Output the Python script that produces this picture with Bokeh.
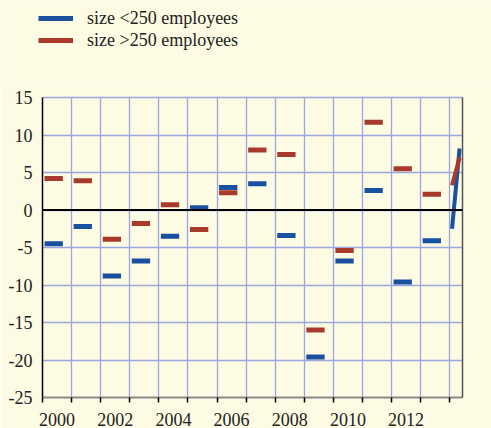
import re
from bokeh.plotting import figure
from bokeh.layouts import column
from bokeh.models import (FixedTicker, LinearAxis, Span, Legend, LabelSet,
                          ColumnDataSource, PrintfTickFormatter, Range1d)
from bokeh.embed import file_html
from bokeh.resources import INLINE

# ---- data ----
years = list(range(2000, 2014))
small_firms = [-4.5, -2.2, -8.8, -6.8, -3.5, 0.3, 3.0, 3.5, -3.4, -19.6, -6.8, 2.6, -9.6, -4.1]
large_firms = [4.2, 3.9, -3.9, -1.8, 0.7, -2.6, 2.3, 8.0, 7.4, -16.0, -5.4, 11.7, 5.5, 2.1]
tail_x = [2014.08, 2014.34]
small_tail = [-2.5, 8.2]
large_tail = [3.3, 7.0]
y_ticks = [-25, -20, -15, -10, -5, 0, 5, 10, 15]
x_label_years = [2000, 2002, 2004, 2006, 2008, 2010, 2012]
grid_years = list(range(2001, 2015))
series_names = ["size <250 employees", "size >250 employees"]
x_start, x_end = 2000, 2014.44
y_start, y_end = -25, 15

BG = "#FDFBE3"
BLUE = "#1A50A0"
RED = "#A83A2C"
GRID = "#9AA6E0"
FONT = "'Liberation Serif', 'Times New Roman', serif"
TXT = "#222222"

W = 491
TOP_H = 85
MAIN_H = 428 - TOP_H

src = ColumnDataSource(dict(
    x0=[y + 0.07 for y in years], x1=[y + 0.70 for y in years],
    small=small_firms, large=large_firms))

# ---------- legend strip ----------
lp = figure(width=W, height=TOP_H, output_backend="svg", toolbar_location=None,
            x_range=Range1d(0, 1), y_range=Range1d(0, 1),
            x_axis_location=None, y_axis_location=None,
            min_border_left=0, min_border_right=0, min_border_top=0, min_border_bottom=0,
            background_fill_color=BG, border_fill_color=BG, outline_line_color=None)
lp.frame_align = False
lp.grid.visible = False
lr1 = lp.segment(x0="x0", y0="small", x1="x1", y1="small", source=src,
                 line_color=BLUE, line_width=5, line_cap="butt")
lr2 = lp.segment(x0="x0", y0="large", x1="x1", y1="large", source=src,
                 line_color=RED, line_width=5, line_cap="butt")
legend = Legend(items=[(series_names[0], [lr1]), (series_names[1], [lr2])],
                location=(38, 34), orientation="vertical",
                glyph_width=35, glyph_height=22, label_height=22, spacing=0,
                label_standoff=14, padding=0, margin=0,
                border_line_color=None, background_fill_alpha=0,
                label_text_font=FONT, label_text_font_size="18px", label_text_color=TXT)
lp.add_layout(legend)

# ---------- main chart ----------
p = figure(width=W, height=MAIN_H, output_backend="svg", toolbar_location=None,
           x_range=Range1d(x_start, x_end), y_range=Range1d(y_start, y_end),
           min_border_left=42, min_border_right=29, min_border_top=12, min_border_bottom=31,
           background_fill_color=BG, border_fill_color=BG, outline_line_color=None)
p.frame_align = False

p.segment(x0="x0", y0="small", x1="x1", y1="small", source=src,
          line_color=BLUE, line_width=5, line_cap="butt")
p.segment(x0="x0", y0="large", x1="x1", y1="large", source=src,
          line_color=RED, line_width=5, line_cap="butt")
p.line(tail_x, small_tail, line_color=BLUE, line_width=4)
p.line(tail_x, large_tail, line_color=RED, line_width=4)

p.add_layout(Span(location=0, dimension="width", line_color="black", line_width=2))

p.xgrid.ticker = FixedTicker(ticks=grid_years)
p.ygrid.ticker = FixedTicker(ticks=y_ticks)
for g in (p.xgrid[0], p.ygrid[0]):
    g.grid_line_color = GRID
    g.grid_line_width = 1.3

xa = p.xaxis[0]
xa.ticker = FixedTicker(ticks=[y + 0.5 for y in x_label_years], minor_ticks=years + [2014])
xa.formatter = PrintfTickFormatter(format="%d")
xa.major_tick_out = 0
xa.major_tick_in = 0
xa.minor_tick_out = 5
xa.minor_tick_in = 0
xa.minor_tick_line_color = "black"
xa.minor_tick_line_width = 1.5
xa.axis_line_color = "#8A8A8A"
xa.axis_line_width = 2
xa.major_label_standoff = 10
xa.major_label_text_font = FONT
xa.major_label_text_font_size = "18px"
xa.major_label_text_color = TXT

ya = p.yaxis[0]
ya.ticker = FixedTicker(ticks=y_ticks)
ya.formatter = PrintfTickFormatter(format="%d")
ya.major_tick_out = 0
ya.major_tick_in = 0
ya.minor_tick_out = 0
ya.minor_tick_in = 0
ya.axis_line_color = "black"
ya.axis_line_width = 1.5
ya.major_label_standoff = 10
ya.major_label_text_font = FONT
ya.major_label_text_font_size = "18px"
ya.major_label_text_color = TXT

ta = LinearAxis(ticker=FixedTicker(ticks=[]), axis_line_color=GRID, axis_line_width=1.3,
                major_tick_out=0, major_tick_in=0, minor_tick_out=0, minor_tick_in=0,
                major_label_standoff=0)
p.add_layout(ta, "above")

ra = LinearAxis(ticker=FixedTicker(ticks=[]), axis_line_color="#555555", axis_line_width=1.5,
                major_tick_out=0, major_tick_in=0, minor_tick_out=0, minor_tick_in=0,
                major_label_standoff=0)
p.add_layout(ra, "right")
rsrc = ColumnDataSource(dict(x=[x_end] * len(y_ticks), y=y_ticks,
                             t=[str(v) for v in y_ticks]))
p.add_layout(LabelSet(x="x", y="y", text="t", source=rsrc, x_offset=28,
                      text_align="right", text_baseline="middle",
                      text_font=FONT, text_font_size="18px", text_color=TXT))

layout = column(lp, p, spacing=0)
html = file_html(layout, INLINE, title="chart")
html = re.sub(r"<body([^>]*)>", r'<body\1 style="background-color:%s;">' % BG, html, count=1)
open("out.html", "w").write(html)
